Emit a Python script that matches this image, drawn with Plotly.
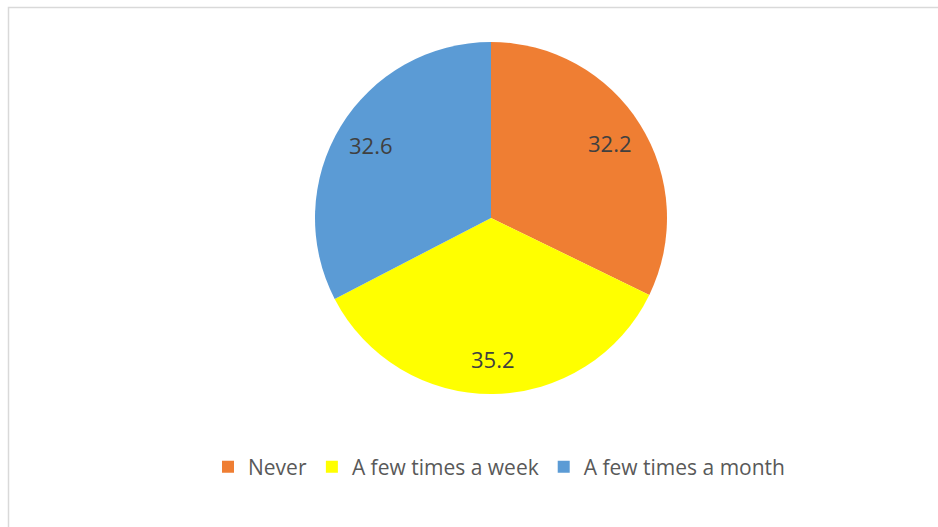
import math
import plotly.graph_objects as go

labels = ["Never", "A few times a week", "A few times a month"]
values = [32.2, 35.2, 32.6]
colors = ["#EF7E33", "#FFFF00", "#5B9BD5"]

W, H = 938, 527
cx, cy, r = 491, 218, 176  # pie centre and radius in pixels
label_r = 0.8 * r          # data labels sit along each slice's bisector

fig = go.Figure(
    go.Pie(
        labels=labels,
        values=values,
        sort=False,
        direction="clockwise",
        rotation=0,
        marker=dict(colors=colors, line=dict(width=0)),
        textinfo="none",
        domain=dict(
            x=[(cx - r) / W, (cx + r) / W],
            y=[(H - cy - r) / H, (H - cy + r) / H],
        ),
        hoverinfo="label+value",
    )
)

# value labels placed at the middle angle of each slice
total = sum(values)
annotations = []
acc = 0.0
for v in values:
    mid = (acc + v / 2) / total * 2 * math.pi  # clockwise from 12 o'clock
    acc += v
    px = cx + label_r * math.sin(mid)
    py = cy - label_r * math.cos(mid)
    annotations.append(
        dict(
            x=px / W,
            y=(H - py) / H,
            xref="paper",
            yref="paper",
            text=f"{v:.1f}",
            showarrow=False,
            xanchor="center",
            yanchor="middle",
            font=dict(family="Open Sans", size=22, color="#404040"),
        )
    )

fig.update_layout(
    width=W,
    height=H,
    margin=dict(l=0, r=0, t=0, b=0),
    paper_bgcolor="white",
    plot_bgcolor="white",
    showlegend=True,
    legend=dict(
        orientation="h",
        x=499 / W,
        xanchor="center",
        y=(H - 467) / H,
        yanchor="middle",
        font=dict(family="Open Sans", size=21, color="#595959"),
        bgcolor="rgba(0,0,0,0)",
    ),
    annotations=annotations,
    shapes=[
        dict(
            type="rect",
            xref="paper",
            yref="paper",
            x0=8.5 / W,
            x1=1.02,
            y0=-0.02,
            y1=(H - 7.5) / H,
            line=dict(color="#D9D9D9", width=1.5),
            fillcolor="rgba(0,0,0,0)",
            layer="below",
        )
    ],
)

fig.write_html("out.html")
